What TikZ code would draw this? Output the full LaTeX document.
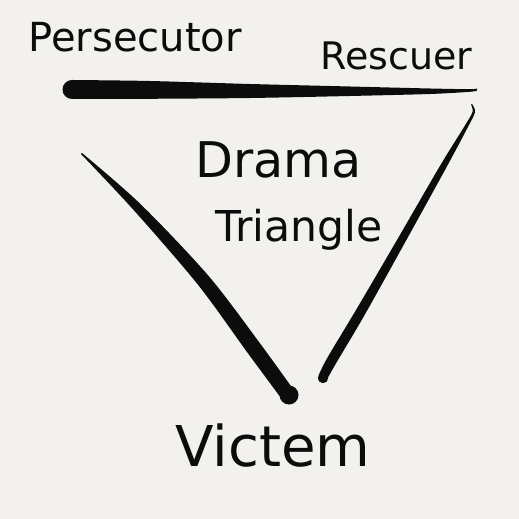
\documentclass[tikz,border=0pt]{standalone}
\usepackage{fontspec}
\setmainfont{DejaVu Sans}
\usepackage{tikz}
\usetikzlibrary{positioning}

\definecolor{paper}{RGB}{242,241,238}
\definecolor{ink}{RGB}{12,12,12}

\tikzset{
    role/.style={inner sep=0pt, anchor=base west, text=ink},
    brush/.style={fill=ink}
}

\begin{document}
\begin{tikzpicture}[x=0.02cm, y=-0.02cm]
    % paper
    \fill[paper] (0,0) rectangle (519,519);

    % roles
    \node[role, font=\fontsize{22.8}{26}\selectfont] (persecutor) at (28,52) {Persecutor};
    \node[role, font=\fontsize{21.6}{25}\selectfont] (rescuer) at (320,70) {Rescuer};
    \node[role, font=\fontsize{32}{36}\selectfont] (victem) at (175,466) {Victem};

    % title in the middle
    \node[role, font=\fontsize{28}{32}\selectfont] (drama) at (195,178) {Drama};
    \node[role, font=\fontsize{24.2}{28}\selectfont] (triangle) at (215,242) {Triangle};

    % top stroke, thick on the left
    \fill[brush] plot[smooth] coordinates {(72,80) (150,81) (250,84) (350,86.5) (430,88.5) (470,89.2) (477,88.5)}
        -- plot[smooth] coordinates {(477,90.5) (470,91.8) (430,94) (350,96) (250,98) (150,98.8) (72,99)} -- cycle;
    \fill[brush] (72,89.5) circle (9.5);

    % left stroke, thick at the bottom
    \fill[brush] plot[smooth] coordinates {(82,153) (140.4,204) (208.2,275.5) (259,342) (293,389)}
        -- plot[smooth] coordinates {(281,398) (247,352) (197.8,284.5) (133.6,210) (81,154)} -- cycle;
    \fill[brush] (289,395) circle (9.5);

    % right stroke with the little hook on top
    \fill[brush] plot[smooth] coordinates {(472,104) (475,112) (467.5,127.8) (445.8,168.5) (403.6,245) (364.3,315.5) (336.5,362.5) (327.5,378.5)}
        -- plot[smooth] coordinates {(318.5,375.5) (327.5,357.5) (355.7,310.5) (396.4,241) (440.2,165.5) (464.5,126.2) (472.5,112) (471,104.5)} -- cycle;
    \fill[brush] (323,378) circle (5.2);
\end{tikzpicture}
\end{document}
